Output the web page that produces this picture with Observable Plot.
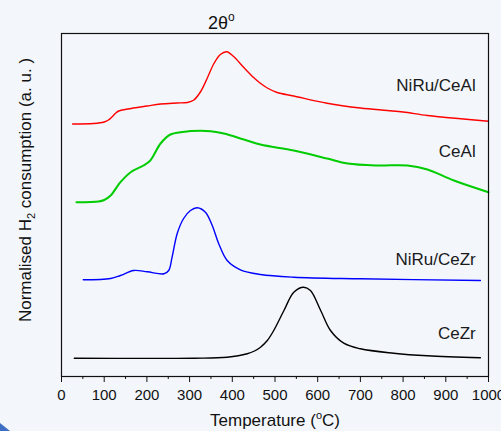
<!DOCTYPE html>
<html>
<head>
<meta charset="utf-8">
<script src="https://cdn.jsdelivr.net/npm/d3@7"></script>
<script src="https://cdn.jsdelivr.net/npm/@observablehq/plot@0.6"></script>
<style>
  html, body { margin: 0; padding: 0; background: #f3f7fc; width: 501px; height: 431px; overflow: hidden; }
  #chart { position: relative; width: 501px; height: 431px; }
  #corner { position: absolute; left: 0; top: 423px; width: 10px; height: 8px; background: #3d6fc4; clip-path: polygon(0 0, 100% 100%, 0 100%); }
</style>
</head>
<body>
<div id="chart"><div id="corner"></div></div>
<script>
// Temperature (°C) and signal (a.u., arbitrary offset units)
const niruCeAlT = [26, 75, 100, 110, 118, 126, 134, 155, 200, 232, 270, 295, 310, 326, 342, 357, 372, 387, 403, 427, 450, 465, 482, 505, 544, 622, 700, 763, 800, 857, 935, 1000];
const niruCeAlV = [252.5, 253, 254.5, 256.5, 259.5, 263, 265.5, 267.5, 270.5, 272.5, 273.5, 274, 276.5, 285, 299, 313, 322, 324.7, 320, 309, 299, 293.5, 288.5, 284, 280.5, 273.3, 268.5, 266, 264.5, 261, 257.7, 255.3];

const ceAlT = [35, 87, 100, 115, 138, 162, 192, 208, 232, 255, 279, 349, 380, 427, 466, 544, 622, 670, 740, 810, 857, 919, 1000];
const ceAlV = [174.3, 175, 176.5, 181, 194.3, 204.3, 211, 216, 233, 242, 244.3, 245.3, 243, 237, 232, 226, 218, 213, 211, 211, 207, 196, 184.3];

const niruCeZrT = [51, 115, 138, 169, 201, 240, 251, 259, 271, 286, 302, 318, 337, 353, 368, 388, 419, 466, 544, 700, 981];
const niruCeZrV = [96.7, 98, 101, 106, 104.7, 102.7, 106, 119.3, 143, 158, 166, 168.7, 164.3, 151, 133, 116, 106.7, 102, 99.3, 97.7, 96];

const ceZrT = [30, 310, 388, 435, 452, 466, 482, 497, 521, 544, 567, 583, 607, 630, 661, 700, 778, 857, 981];
const ceZrV = [18.3, 18.3, 19.3, 22.7, 25.5, 29.3, 36, 46, 66, 84.3, 89.3, 86, 66, 46, 33.3, 27.7, 23.3, 20.7, 18.7];

const seriesNames = ["NiRu/CeAl", "CeAl", "NiRu/CeZr", "CeZr"];
const seriesColors = ["#ff0000", "#00cc00", "#0000ff", "#000000"];
const labelT = [970, 970, 970, 970];
const labelV = [291, 225.4, 117.4, 43.4];

const majorTicks = [0, 100, 200, 300, 400, 500, 600, 700, 800, 900, 1000];
const minorTicks = [50, 150, 250, 350, 450, 550, 650, 750, 850, 950];

const toRows = (T, V, name) => T.map((t, i) => ({T: t, v: V[i], name}));
const series = [
  toRows(niruCeAlT, niruCeAlV, seriesNames[0]),
  toRows(ceAlT, ceAlV, seriesNames[1]),
  toRows(niruCeZrT, niruCeZrV, seriesNames[2]),
  toRows(ceZrT, ceZrV, seriesNames[3])
];
const labels = seriesNames.map((n, i) => ({name: n, T: labelT[i], v: labelV[i]}));

const font = "'Liberation Sans', Arial, sans-serif";

const svg = Plot.plot({
  width: 501,
  height: 431,
  marginLeft: 61,
  marginRight: 13,
  marginTop: 33,
  marginBottom: 55,
  style: {background: "transparent", fontFamily: font, fontSize: "15px", color: "#111"},
  x: {domain: [0, 1000], label: null},
  y: {domain: [0, 343], axis: null},
  marks: [
    ...series.map((rows, i) => Plot.line(rows, {
      x: "T", y: "v", stroke: seriesColors[i],
      strokeWidth: i === 1 ? 2 : 1.4, curve: "catmull-rom"
    })),
    Plot.text(labels, {x: "T", y: "v", text: "name", textAnchor: "end", fontSize: 17, fill: "#1a1a1a"}),
    Plot.axisX({ticks: majorTicks, tickSize: 6, tickPadding: 7, tickFormat: d => String(d), fontSize: 15, label: null}),
    Plot.axisX({ticks: minorTicks, tickSize: 3, tickFormat: () => "", label: null}),
    Plot.frame({stroke: "#111", strokeWidth: 1.2})
  ]
});

const s = d3.select(svg).style("position", "absolute").style("left", "0").style("top", "0").style("overflow", "visible");

// X-axis title with superscript
const xt = s.append("text").attr("x", 275).attr("y", 426).attr("text-anchor", "middle")
  .attr("font-family", font).attr("font-size", 17).attr("fill", "#111");
xt.append("tspan").text("Temperature (");
xt.append("tspan").attr("dy", -7).attr("font-size", 11).text("o");
xt.append("tspan").attr("dy", 7).text("C)");

// Y-axis title with subscript
const yt = s.append("text").attr("transform", "translate(31,190) rotate(-90)").attr("text-anchor", "middle")
  .attr("font-family", font).attr("font-size", 17).attr("fill", "#111");
yt.append("tspan").text("Normalised H");
yt.append("tspan").attr("dy", 4).attr("font-size", 11).text("2");
yt.append("tspan").attr("dy", -4).text(" consumption (a. u. )");

// Top title
const tt = s.append("text").attr("x", 208).attr("y", 29).attr("text-anchor", "start")
  .attr("font-family", font).attr("font-size", 18).attr("fill", "#111");
tt.append("tspan").text("2θ");
tt.append("tspan").attr("dy", -8).attr("font-size", 12).text("o");

document.getElementById("chart").appendChild(svg);
</script>
</body>
</html>
